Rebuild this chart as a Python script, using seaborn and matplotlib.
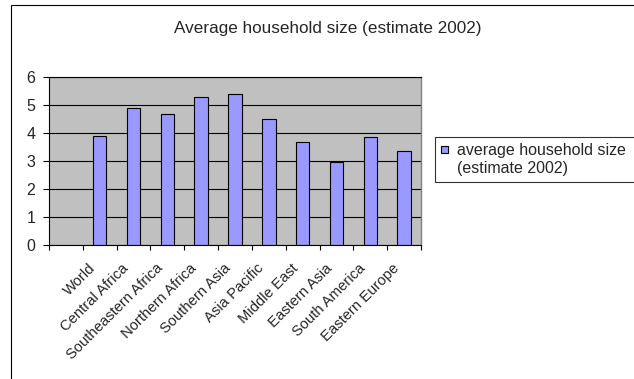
import numpy as np
import pandas as pd
import matplotlib
matplotlib.use("Agg")
import matplotlib.pyplot as plt
import seaborn as sns
from matplotlib.patches import Rectangle
from matplotlib.legend_handler import HandlerPatch

# ---- data ----
categories = ["", "World", "Central Africa", "Southeastern Africa", "Northern Africa",
              "Southern Asia", "Asia Pacific", "Middle East", "Eastern Asia",
              "South America", "Eastern Europe"]
values = [np.nan, 3.9, 4.9, 4.7, 5.3, 5.4, 4.5, 3.7, 2.97, 3.87, 3.35]
series_name = "average household size\n(estimate 2002)"
title = "Average household size (estimate 2002)"
yticks = [0, 1, 2, 3, 4, 5, 6]

sns.set_style("white")
plt.rcParams["font.family"] = ["Liberation Sans", "DejaVu Sans"]
FS = 11.5

W, H = 634, 379
fig = plt.figure(figsize=(W / 100, H / 100), dpi=100)
fig.patch.set_facecolor("white")

x0, x1, ytop, ybot = 49, 421, 77.3, 245
ax = fig.add_axes([x0 / W, (H - ybot) / H, (x1 - x0) / W, (ybot - ytop) / H])

df = pd.DataFrame({"region": categories, "size": values})
sns.barplot(data=df, x="region", y="size", order=categories, ax=ax,
            color="#9999FF", edgecolor="black", linewidth=0.8, width=0.4,
            errorbar=None, saturation=1)

ax.set_facecolor("#C0C0C0")
ax.set_xlim(-0.5, len(categories) - 0.5)
ax.set_ylim(0, 6)
ax.set_yticks(yticks)
ax.set_yticklabels([str(t) for t in yticks], fontsize=FS)
ax.yaxis.grid(True, color="black", linewidth=0.8)
ax.xaxis.grid(False)
ax.set_axisbelow(True)
ax.set_xlabel("")
ax.set_ylabel("")

for s in ["left", "bottom", "top"]:
    ax.spines[s].set_visible(True)
    ax.spines[s].set_color("black")
    ax.spines[s].set_linewidth(0.8)
ax.spines["right"].set_visible(True)
ax.spines["right"].set_color("#808080")
ax.spines["right"].set_linewidth(1.0)

ax.tick_params(axis="y", direction="out", length=4.3, width=0.8, pad=5.5,
               color="black", left=True)
# category labels (invisible major ticks, slightly left of centre as in Excel),
# visible tick marks between categories
ax.set_xticks(np.arange(len(categories)) - 0.35)
ax.set_xticklabels(categories, fontsize=10.6, rotation=45, ha="right",
                   va="top", rotation_mode="anchor")
ax.tick_params(axis="x", which="major", length=0, pad=11.5)
ax.set_xticks(np.arange(-0.5, len(categories), 1.0), minor=True)
ax.tick_params(axis="x", which="minor", direction="out", length=3.6,
               width=0.8, color="black", bottom=True)

# title
fig.text(328 / W, 1 - 28 / H, title, ha="center", va="center", fontsize=12.3)

# legend
def make_patch(legend, orig_handle, xdescent, ydescent, width, height, fontsize):
    s = 0.45 * fontsize
    return Rectangle((-xdescent, -ydescent + height / 2 - s / 2 + 7.5), s, s)

bar_patch = ax.containers[0].patches[1]
proxy = Rectangle((0, 0), 1, 1, facecolor=bar_patch.get_facecolor(),
                  edgecolor="black", linewidth=0.8)
leg = fig.legend([proxy], [series_name], loc="upper left",
                 bbox_to_anchor=(435 / W, 1 - 137 / H, 0.5, 0),
                 bbox_transform=fig.transFigure, mode="expand",
                 borderaxespad=0, fontsize=FS, frameon=True, fancybox=False,
                 shadow=False, handlelength=0.45, handleheight=0.45,
                 handletextpad=0.6, borderpad=0.35,
                 handler_map={Rectangle: HandlerPatch(patch_func=make_patch)})
leg.get_frame().set_edgecolor("black")
leg.get_frame().set_linewidth(0.8)
leg.get_frame().set_facecolor("white")
for t in leg.get_texts():
    t.set_linespacing(1.3)

# outer chart border (only top and left visible)
fig.patches.append(Rectangle((10.5 / W, -0.1), 2.0, (1 - 5.5 / H) + 0.1,
                             transform=fig.transFigure, fill=False,
                             edgecolor="black", linewidth=0.8, figure=fig))

fig.savefig("out.png", dpi=100)
